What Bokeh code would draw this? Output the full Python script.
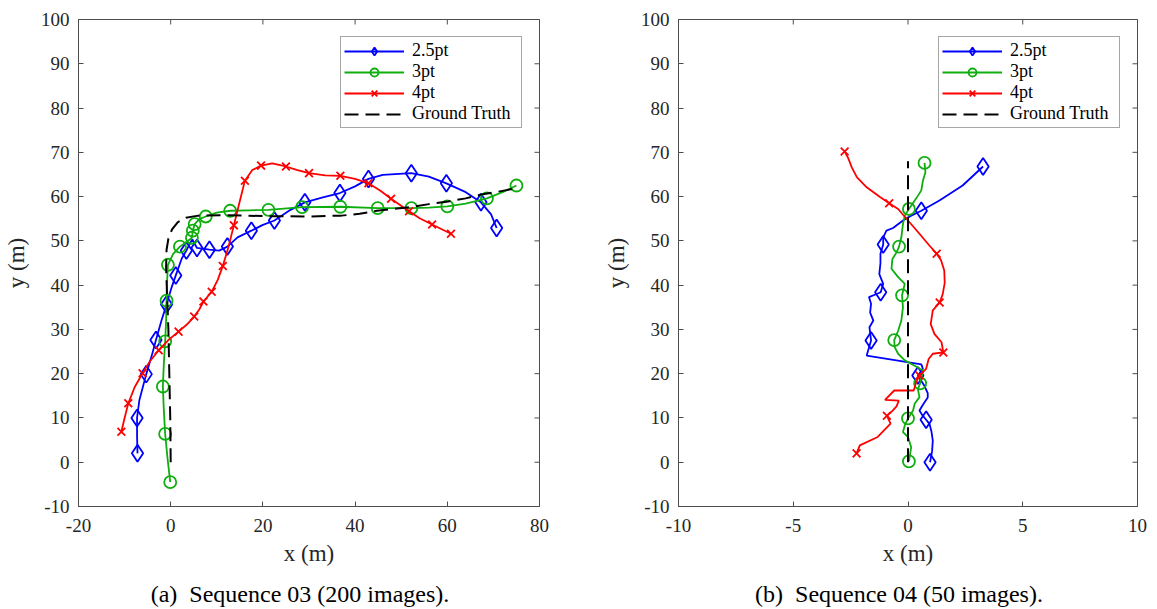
import math
from bokeh.plotting import figure
from bokeh.models import FixedTicker, Legend, LegendItem, LinearAxis, Range1d
from bokeh.layouts import row
from bokeh.embed import file_html
from bokeh.resources import INLINE

# ---------------- data: Sequence 03 ----------------
a_blue_x = [-7.2, -7.3, -7.3, -6.8, -5.3, -4.0, -3.2, -2.0, -0.9, 0.2, 1.1, 2.4, 3.4, 4.2, 4.7, 5.7, 8.4, 10.5, 12.3,
            14.5, 17.5, 20.0, 22.5, 26.0, 29.1, 33.0, 36.7, 40.0, 42.9, 46.0, 52.2, 56.0, 59.8, 64.0, 67.3, 69.5, 70.7]
a_blue_y = [2.0, 6.0, 10.0, 14.0, 19.9, 24.5, 27.6, 32.0, 35.6, 39.5, 42.2, 46.0, 47.8, 49.5, 50.3, 48.4, 48.0, 47.8, 48.7,
            50.8, 52.3, 53.6, 54.6, 57.0, 58.7, 59.8, 60.8, 62.3, 64.0, 64.9, 65.3, 64.5, 63.0, 61.0, 58.7, 56.0, 52.9]
a_blue_mx = [-7.2, -7.3, -5.3, -3.2, -0.9, 1.1, 3.4, 5.7, 8.4, 12.3, 17.5, 22.5, 29.1, 36.7, 42.9, 52.2, 59.8, 67.3, 70.7]
a_blue_my = [2.0, 10.0, 19.9, 27.6, 35.6, 42.2, 47.8, 48.4, 48.0, 48.7, 52.3, 54.6, 58.7, 60.8, 64.0, 65.3, 63.0, 58.7, 52.9]

a_green_x = [-0.1, -0.7, -1.2, -1.5, -1.7, -1.5, -1.2, -1.0, -0.9, -0.8, -0.6, 0.5, 2.0, 3.5, 4.6, 4.8, 5.2, 6.2, 7.6,
             10.0, 12.9, 17.0, 21.2, 28.5, 36.8, 44.9, 52.2, 56.0, 60.0, 64.0, 68.6, 72.0, 75.0]
a_green_y = [-4.5, 1.0, 6.4, 12.0, 17.1, 22.0, 27.3, 32.0, 36.5, 40.5, 44.6, 47.0, 48.7, 49.8, 50.7, 52.3, 53.8, 54.9, 55.5,
             56.4, 56.8, 56.9, 57.0, 57.6, 57.7, 57.4, 57.4, 57.5, 57.8, 58.4, 59.6, 61.0, 62.5]
a_green_mx = [-0.1, -1.2, -1.7, -1.2, -0.9, -0.6, 2.0, 4.6, 4.8, 5.2, 7.6, 12.9, 21.2, 28.5, 36.8, 44.9, 52.2, 60.0, 68.6, 75.0]
a_green_my = [-4.5, 6.4, 17.1, 27.3, 36.5, 44.6, 48.7, 50.7, 52.3, 53.8, 55.5, 56.8, 57.0, 57.6, 57.7, 57.4, 57.4, 57.8, 59.6, 62.5]

a_red_x = [-10.7, -10.0, -9.2, -7.8, -6.1, -4.5, -2.6, -0.5, 1.7, 3.5, 5.1, 6.2, 7.1, 8.9, 10.2, 11.3, 12.5, 13.7, 14.9,
           16.1, 17.7, 19.6, 22.0, 25.0, 27.5, 30.0, 33.5, 36.8, 40.0, 42.9, 45.5, 47.8, 51.7, 54.0, 56.7, 60.8]
a_red_y = [6.9, 10.0, 13.3, 17.0, 20.1, 22.8, 25.3, 27.6, 29.5, 31.1, 32.9, 34.5, 36.3, 38.5, 41.2, 44.3, 48.5, 53.5, 58.6,
           63.6, 66.0, 67.0, 67.5, 66.8, 66.0, 65.3, 64.8, 64.7, 64.0, 63.0, 61.3, 59.5, 56.7, 55.1, 53.7, 51.6]
a_red_mx = [-10.7, -9.2, -6.1, -2.6, 1.7, 5.1, 7.1, 8.9, 11.3, 13.7, 16.1, 19.6, 25.0, 30.0, 36.8, 42.9, 47.8, 51.7, 56.7, 60.8]
a_red_my = [6.9, 13.3, 20.1, 25.3, 29.5, 32.9, 36.3, 38.5, 44.3, 53.5, 63.6, 67.0, 66.8, 65.3, 64.7, 63.0, 59.5, 56.7, 53.7, 51.6]

a_gt_x = [0.0, -0.1, -0.3, -0.5, -0.8, -1.0, -0.9, -0.5, 0.3, 1.5, 3.3, 6.0, 12.0, 20.0, 30.0, 37.0, 41.0, 44.7, 48.0,
          52.4, 56.0, 60.2, 64.0, 67.1, 71.0, 74.5]
a_gt_y = [0.0, 10.0, 20.0, 30.0, 38.0, 44.0, 48.0, 50.5, 52.6, 54.2, 55.2, 55.7, 55.8, 55.6, 55.5, 55.7, 56.1, 56.8, 57.2,
          57.7, 58.3, 58.9, 59.6, 60.4, 61.1, 61.8]

# ---------------- data: Sequence 04 ----------------
b_blue_x = [0.96, 1.05, 1.08, 1.02, 0.94, 0.79, 0.60, 0.50, 0.65, 0.86, 0.86, 0.72, 0.43, 0.65, 0.58, -1.80, -1.61, -1.68,
            -1.51, -1.65, -1.61, -1.70, -1.37, -1.19, -1.08, -1.25, -1.20, -1.20, -1.08, -1.08, -0.94, -0.65, -0.22, 0.14,
            0.58, 1.37, 2.38, 3.27]
b_blue_y = [0.0, 2.5, 4.9, 7.0, 8.6, 9.6, 10.8, 11.7, 13.0, 14.6, 15.6, 17.2, 19.6, 21.1, 22.1, 24.1, 27.5, 30.5,
            32.0, 33.8, 35.8, 37.3, 38.0, 38.4, 40.3, 42.5, 45.0, 47.1, 49.2, 50.8, 52.3, 52.9, 54.6, 55.7,
            56.8, 59.1, 62.5, 66.8]
b_blue_mx = [0.96, 0.79, 0.43, -1.61, -1.19, -1.08, 0.58, 3.27]
b_blue_my = [0.0, 9.6, 19.6, 27.5, 38.4, 49.2, 56.8, 66.8]

b_green_x = [0.04, 0.14, 0.0, -0.22, -0.14, 0.0, 0.22, 0.29, 0.50, 0.43, 0.53, 0.65, 0.29, -0.14, -0.43, -0.58, -0.60,
             -0.43, -0.29, -0.22, -0.26, -0.14, -0.43, -0.72, -0.68, -0.50, -0.39, -0.29, -0.22, -0.14, 0.04, 0.36,
             0.58, 0.65, 0.76, 0.72]
b_green_y = [0.2, 3.4, 5.7, 6.8, 8.3, 9.9, 11.7, 13.2, 14.7, 16.5, 17.8, 20.7, 21.8, 23.0, 24.5, 26.0, 27.6,
             29.7, 32.0, 35.0, 37.7, 40.3, 41.8, 43.7, 45.9, 47.4, 48.7, 50.8, 53.8, 55.7, 57.2, 59.6,
             61.4, 63.6, 65.5, 67.6]
b_green_mx = [0.04, 0.0, 0.53, -0.60, -0.26, -0.39, 0.04, 0.72]
b_green_my = [0.2, 9.9, 17.8, 27.6, 37.7, 48.7, 57.2, 67.6]

b_red_x = [-2.24, -2.10, -1.32, -0.76, -0.92, -0.70, -0.50, -0.40, -1.00, -0.60, 0.25, 0.35, 0.50, 0.79, 0.90, 1.08,
           1.54, 1.46, 1.15, 0.99, 1.08, 1.38, 1.51, 1.60, 1.58, 1.44, 1.25, 0.94, 0.50, 0.0, -0.43, -0.82, -1.22,
           -1.80, -2.23, -2.45, -2.59, -2.76]
b_red_y = [2.0, 3.8, 5.7, 8.7, 10.5, 11.5, 12.6, 13.9, 14.1, 16.2, 16.2, 18.0, 19.6, 21.1, 23.3, 24.5,
           24.8, 27.1, 29.0, 31.2, 34.3, 36.1, 37.9, 40.5, 43.3, 45.6, 47.1, 48.9, 51.6, 54.6, 57.2, 58.5, 59.9,
           62.1, 64.4, 66.6, 68.5, 70.2]
b_red_mx = [-2.24, -0.92, 0.50, 1.54, 1.38, 1.25, -0.82, -2.76]
b_red_my = [2.0, 10.5, 19.6, 24.8, 36.1, 47.1, 58.5, 70.2]

b_gt_x = [0.0, 0.0]
b_gt_y = [0.0, 68.0]

a_xrange = (-20, 80)
b_xrange = (-10, 10)
yrange = (-10, 100)
a_xticks = [-20, 0, 20, 40, 60, 80]
b_xticks = [-10, -5, 0, 5, 10]
yticks = [-10, 0, 10, 20, 30, 40, 50, 60, 70, 80, 90, 100]
labels = ["2.5pt", "3pt", "4pt", "Ground Truth"]
captions = ["(a)\u00a0 Sequence 03 (200 images).\u00a0\u00a0\u00a0",
            "(b)\u00a0 Sequence 04 (50 images).\u00a0\u00a0\u00a0"]

SERIF = "Liberation Serif, serif"
AX = "#4d4d4d"
TXT = "#262626"
BLUE = "#0000ff"
GREEN = "#0fae0f"
RED = "#ff0000"


def style_axis(ax, ticks):
    ax.ticker = FixedTicker(ticks=ticks)
    ax.major_label_overrides = {t: str(t) for t in ticks}
    ax.major_tick_in = 5
    ax.major_tick_out = 0
    ax.minor_tick_line_color = None
    ax.axis_line_color = AX
    ax.major_tick_line_color = AX
    ax.axis_line_width = 1
    ax.major_label_text_font = SERIF
    ax.major_label_text_font_size = "19px"
    ax.major_label_text_color = TXT
    ax.axis_label_text_font = SERIF
    ax.axis_label_text_font_size = "23px"
    ax.axis_label_text_font_style = "normal"
    ax.axis_label_text_color = TXT


def make_fig(width, left, right, xr, xticks, data, caption):
    p = figure(width=width, height=609, x_range=Range1d(*xr), y_range=Range1d(*yrange),
               output_backend="svg", toolbar_location=None,
               min_border_left=left, min_border_right=right, min_border_top=19, min_border_bottom=103,
               x_axis_label="x (m)", y_axis_label="y (m)")
    p.grid.visible = False
    p.outline_line_color = AX
    p.background_fill_color = "white"
    p.border_fill_color = "white"
    for ax in p.xaxis:
        style_axis(ax, xticks)
        ax.major_label_standoff = 12
        ax.axis_label_standoff = 6
    for ax in p.yaxis:
        style_axis(ax, yticks)
        ax.major_label_standoff = 9
        ax.axis_label_standoff = 9

    # caption of the sub-figure, carried by a tick-less axis under the x axis
    cap = LinearAxis(ticker=FixedTicker(ticks=[]), axis_label=caption,
                     axis_line_color=None, major_tick_line_color=None, minor_tick_line_color=None,
                     major_label_standoff=0, axis_label_standoff=12,
                     axis_label_text_font=SERIF, axis_label_text_font_size="24px",
                     axis_label_text_font_style="normal", axis_label_text_color="black")
    p.add_layout(cap, "below")

    # inward ticks on the top and right edges of the box (clipped to the frame)
    p.scatter(xticks, [yrange[1]] * len(xticks), marker="dash", angle=math.pi / 2, size=10,
              line_color=AX, line_width=1)
    p.scatter([xr[1]] * len(yticks), yticks, marker="dash", size=10, line_color=AX, line_width=1)

    (bx, by, bmx, bmy, gx, gy, gmx, gmy, rx, ry, rmx, rmy, tx, ty) = data
    lw = 1.8
    l1 = p.line(bx, by, line_color=BLUE, line_width=lw)
    m1 = p.scatter(bmx, bmy, marker="diamond", size=17, fill_color=None, line_color=BLUE, line_width=lw)
    l2 = p.line(gx, gy, line_color=GREEN, line_width=lw)
    m2 = p.scatter(gmx, gmy, marker="circle", size=12, fill_color=None, line_color=GREEN, line_width=lw)
    l3 = p.line(rx, ry, line_color=RED, line_width=lw)
    m3 = p.scatter(rmx, rmy, marker="x", size=11, line_color=RED, line_width=lw)
    l4 = p.line(tx, ty, line_color="black", line_width=2, line_dash="14 7")

    legend = Legend(items=[LegendItem(label=labels[0], renderers=[l1, m1]),
                           LegendItem(label=labels[1], renderers=[l2, m2]),
                           LegendItem(label=labels[2], renderers=[l3, m3]),
                           LegendItem(label=labels[3], renderers=[l4])],
                    location="top_right", margin=17, padding=3, spacing=0,
                    glyph_width=60, glyph_height=20, label_height=20, label_width=106, label_standoff=8,
                    label_text_font=SERIF, label_text_font_size="18px", label_text_color="black",
                    border_line_color=AX, border_line_width=1, background_fill_color="white",
                    background_fill_alpha=1.0)
    p.add_layout(legend)
    return p


p1 = make_fig(600, 76, 61, a_xrange, a_xticks,
              (a_blue_x, a_blue_y, a_blue_mx, a_blue_my, a_green_x, a_green_y, a_green_mx, a_green_my,
               a_red_x, a_red_y, a_red_mx, a_red_my, a_gt_x, a_gt_y), captions[0])
p2 = make_fig(557, 73, 20, b_xrange, b_xticks,
              (b_blue_x, b_blue_y, b_blue_mx, b_blue_my, b_green_x, b_green_y, b_green_mx, b_green_my,
               b_red_x, b_red_y, b_red_mx, b_red_my, b_gt_x, b_gt_y), captions[1])

layout = row(p1, p2)
open("out.html", "w").write(file_html(layout, INLINE))
